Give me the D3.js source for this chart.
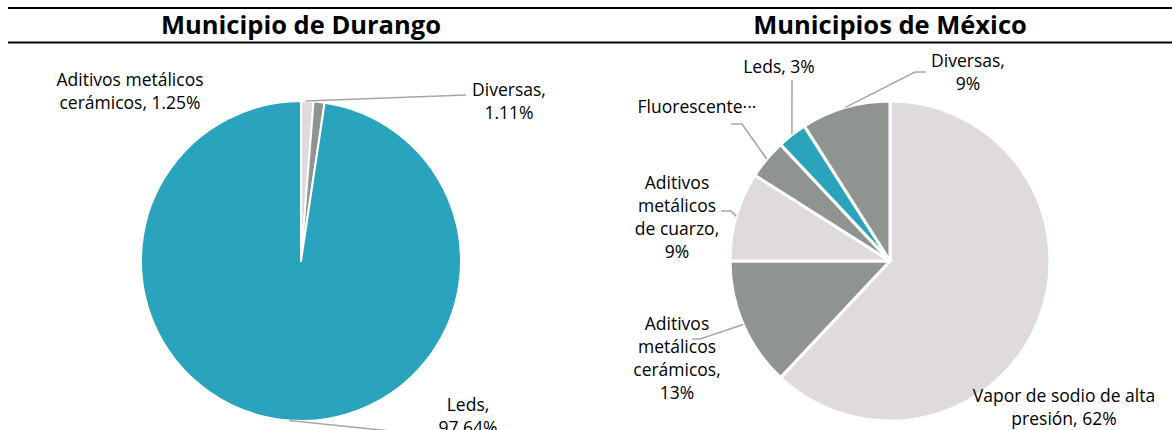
<html lang="es">
  <head>
    <meta charset="utf-8">
    <title>Tipos de luminarias</title>
    <script src="https://d3js.org/d3.v7.min.js"></script>
    <style>
      body { margin: 0; background: #fff; }
      text { font-family: "Open Sans", "Noto Sans", sans-serif; }
    </style>
  </head>
  <body>
    <script type="text/javascript">
      var w = 1172;
      var h = 430;

      // Municipio de Durango
      var durangoCats = ["Aditivos metálicos cerámicos", "Diversas", "Leds"];
      var durangoVals = [1.25, 1.11, 97.64];
      var durangoLabels = [["Aditivos metálicos", "cerámicos, 1.25%"], ["Diversas,", "1.11%"], ["Leds,", "97.64%"]];

      // Municipios de México
      var mexicoCats = ["Vapor de sodio de alta presión", "Aditivos metálicos cerámicos",
                        "Aditivos metálicos de cuarzo", "Fluorescentes", "Leds", "Diversas"];
      var mexicoVals = [62, 13, 9, 4, 3, 9];
      var mexicoLabels = [["Vapor de sodio de alta", "presión, 62%"],
                          ["Aditivos", "metálicos", "cerámicos,", "13%"],
                          ["Aditivos", "metálicos", "de cuarzo,", "9%"],
                          ["Fluorescente\u00b7\u00b7\u00b7"],
                          ["Leds, 3%"],
                          ["Diversas,", "9%"]];

      var teal = "#2aa3bd", gray = "#8f9490", light = "#dfdadd";
      var colorD = d3.scaleOrdinal().domain(durangoCats).range([light, gray, teal]);
      var colorM = d3.scaleOrdinal().domain(mexicoCats).range([light, gray, light, gray, teal, gray]);

      var svg = d3.select("body").append("svg")
          .attr("width", w)
          .attr("height", h);

      // title rules
      svg.append("line").attr("x1", 8).attr("x2", w).attr("y1", 8).attr("y2", 8)
          .attr("stroke", "#000").attr("stroke-width", 2);
      svg.append("line").attr("x1", 8).attr("x2", w).attr("y1", 42.5).attr("y2", 42.5)
          .attr("stroke", "#000").attr("stroke-width", 2);

      var r = 160;
      var pie = d3.pie().sort(null).value(function(d) { return d.v; });
      var arc = d3.arc().innerRadius(0).outerRadius(r);

      function edge(a, rr) { return [Math.sin(a) * rr, -Math.cos(a) * rr]; }

      function drawPie(cx, cy, title, cats, vals, color, strokeW, labels) {
        var g = svg.append("g").attr("transform", "translate(" + cx + "," + cy + ")");
        var data = pie(cats.map(function(c, i) { return {c: c, v: vals[i]}; }));
        g.selectAll("path").data(data).enter().append("path")
          .attr("d", arc)
          .attr("fill", function(d) { return color(d.data.c); })
          .attr("stroke", "#fff")
          .attr("stroke-width", strokeW)
          .attr("stroke-linejoin", "round");

        svg.append("text")
          .attr("x", cx).attr("y", 34)
          .attr("text-anchor", "middle")
          .attr("font-size", 25.5).attr("font-weight", "bold")
          .text(title);

        labels.forEach(function(l) {
          var d = data[l.i];
          if (l.leader) {
            var a = l.angle !== undefined ? l.angle(d) : (d.startAngle + d.endAngle) / 2;
            var p = edge(a, r);
            var pts = [[cx + p[0], cy + p[1]]].concat(l.leader);
            svg.append("path")
              .attr("d", d3.line()(pts))
              .attr("fill", "none")
              .attr("stroke", "#a6a6a6")
              .attr("stroke-width", 1.5);
          }
          var t = svg.append("text")
            .attr("x", l.x).attr("y", l.y)
            .attr("text-anchor", "middle")
            .attr("font-size", 17.5)
            .attr("fill", "#000");
          l.lines.forEach(function(s, k) {
            t.append("tspan").attr("x", l.x).attr("dy", k === 0 ? 0 : 23).text(s);
          });
        });
      }

      drawPie(301, 261, "Municipio de Durango", durangoCats, durangoVals, colorD, 2, [
        {i: 0, lines: durangoLabels[0], x: 130, y: 86},
        {i: 1, lines: durangoLabels[1], x: 509, y: 96,
         angle: function(d) { return d.startAngle - 0.05; }, leader: [[466, 95]]},
        {i: 2, lines: durangoLabels[2], x: 468, y: 411, leader: [[400, 432]]}
      ]);

      drawPie(890, 261, "Municipios de México", mexicoCats, mexicoVals, colorM, 3, [
        {i: 0, lines: mexicoLabels[0], x: 1064, y: 402},
        {i: 1, lines: mexicoLabels[1], x: 677, y: 330, leader: [[700, 339], [692, 339]]},
        {i: 2, lines: mexicoLabels[2], x: 677, y: 189, leader: [[731, 211], [721, 211]]},
        {i: 3, lines: mexicoLabels[3], x: 697, y: 113, leader: [[742, 124], [731, 124]]},
        {i: 4, lines: mexicoLabels[4], x: 779, y: 73, leader: [[792, 80]]},
        {i: 5, lines: mexicoLabels[5], x: 968, y: 67, leader: [[915, 72], [926, 72]]}
      ]);
    </script>
  </body>
</html>
